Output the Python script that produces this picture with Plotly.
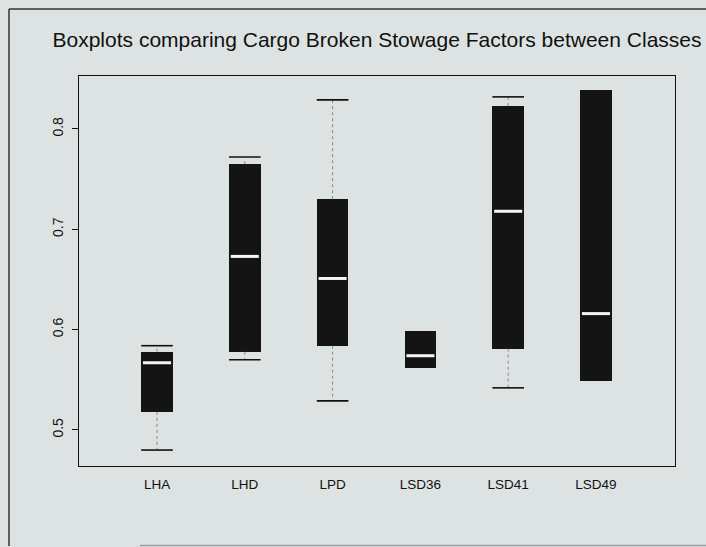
import plotly.graph_objects as go

categories = ["LHA", "LHD", "LPD", "LSD36", "LSD41", "LSD49"]
lower_whisker = [0.480, 0.570, 0.529, 0.562, 0.542, 0.549]
q1_values = [0.518, 0.578, 0.584, 0.562, 0.581, 0.549]
median_values = [0.567, 0.673, 0.651, 0.574, 0.718, 0.616]
q3_values = [0.578, 0.765, 0.730, 0.599, 0.823, 0.839]
upper_whisker = [0.584, 0.772, 0.829, 0.599, 0.832, 0.839]
y_tick_values = [0.5, 0.6, 0.7, 0.8]
y_tick_labels = ["0.5", "0.6", "0.7", "0.8"]

positions = list(range(1, len(categories) + 1))
BOX_W = 0.36
HALF = BOX_W / 2
BG = "#dde3e2"

fig = go.Figure()

# whiskers (dotted)
wx, wy = [], []
for p, lo, a, b, hi in zip(positions, lower_whisker, q1_values, q3_values, upper_whisker):
    if hi > b:
        wx += [p, p, None]
        wy += [b, hi, None]
    if lo < a:
        wx += [p, p, None]
        wy += [a, lo, None]
fig.add_trace(go.Scatter(x=wx, y=wy, mode="lines",
                         line=dict(color="#888888", width=1, dash="dot"),
                         hoverinfo="skip", showlegend=False))

# staples
sx, sy = [], []
for p, lo, a, b, hi in zip(positions, lower_whisker, q1_values, q3_values, upper_whisker):
    if hi > b:
        sx += [p - HALF, p + HALF, None]
        sy += [hi, hi, None]
    if lo < a:
        sx += [p - HALF, p + HALF, None]
        sy += [lo, lo, None]
fig.add_trace(go.Scatter(x=sx, y=sy, mode="lines",
                         line=dict(color="#111111", width=1.6),
                         hoverinfo="skip", showlegend=False))

# boxes
fig.add_trace(go.Bar(x=positions, base=q1_values,
                     y=[b - a for a, b in zip(q1_values, q3_values)],
                     width=BOX_W, marker=dict(color="#141414", line=dict(width=0)),
                     showlegend=False))

# medians
mx, my = [], []
for p, m in zip(positions, median_values):
    mx += [p - HALF + 0.02, p + HALF - 0.02, None]
    my += [m, m, None]
fig.add_trace(go.Scatter(x=mx, y=my, mode="lines",
                         line=dict(color="#f4f6f6", width=3),
                         hoverinfo="skip", showlegend=False))

fig.update_layout(
    width=706, height=547,
    margin=dict(l=79, r=31, t=76, b=81),
    paper_bgcolor=BG, plot_bgcolor=BG,
    font=dict(family="Liberation Sans, Arial, sans-serif", color="#111111"),
    title=dict(text="Boxplots comparing Cargo Broken Stowage Factors between Classes",
               x=0.5, xref="paper", xanchor="center",
               y=1 - 40 / 547, yref="container", yanchor="middle",
               font=dict(size=21, color="#111111")),
    xaxis=dict(range=[0.1116, 6.9], tickmode="array", tickvals=positions,
               ticktext=categories, showgrid=False, zeroline=False,
               showline=True, linecolor="#111111", linewidth=1.2, mirror=True,
               ticks="", ticklabelstandoff=6,
               tickfont=dict(size=13.5, color="#111111")),
    yaxis=dict(range=[0.4641, 0.8528], tickmode="array", tickvals=y_tick_values,
               ticktext=y_tick_labels, showgrid=False, zeroline=False,
               showline=True, linecolor="#111111", linewidth=1.2, mirror=True,
               ticks="outside", ticklen=6, tickwidth=1.2, tickcolor="#111111",
               ticklabelstandoff=3,
               tickangle=-90, tickfont=dict(size=14, color="#111111")),
    bargap=0,
)

# outer frame of the page
px_w, px_h = 596.0, 390.0
def xp(px):
    return (px - 79) / px_w
def yp(py):
    return (466 - py) / px_h
fig.add_shape(type="line", xref="paper", yref="paper", x0=xp(9), x1=xp(9),
              y0=yp(9), y1=yp(546), line=dict(color="#333333", width=1.5))
fig.add_shape(type="line", xref="paper", yref="paper", x0=xp(9), x1=xp(712),
              y0=yp(9), y1=yp(9), line=dict(color="#333333", width=1.5))
fig.add_shape(type="line", xref="paper", yref="paper", x0=xp(140), x1=xp(712),
              y0=yp(545.5), y1=yp(545.5), line=dict(color="#9a9e9e", width=1.5))

fig.write_html("out.html",
               config={"displayModeBar": False},
               post_script="document.body.style.margin='0';"
                           "document.body.style.background='" + BG + "';")
